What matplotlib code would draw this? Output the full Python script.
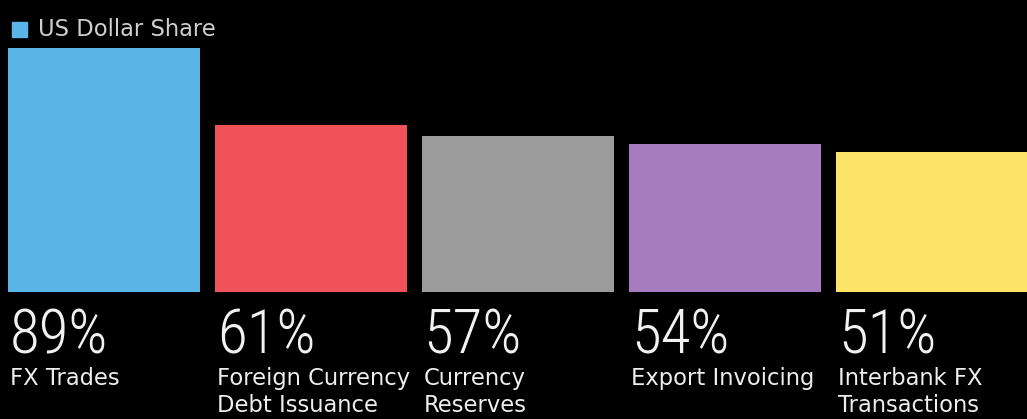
import matplotlib
matplotlib.use("Agg")
import matplotlib.pyplot as plt
from matplotlib.patches import Rectangle

# data
categories = ["FX Trades", "Foreign Currency\nDebt Issuance", "Currency\nReserves",
              "Export Invoicing", "Interbank FX\nTransactions"]
shares = [89, 61, 57, 54, 51]
colors = ["#5AB4E5", "#F0525A", "#9B9B9B", "#A77BBF", "#FDE466"]
legend_label = "US Dollar Share"

fig = plt.figure(figsize=(10.27, 4.19), dpi=100, facecolor="black")
ax = fig.add_axes([0, (419 - 292) / 419, 1, 292 / 419])
ax.set_facecolor("black")

width = 0.93
x = list(range(len(shares)))
ax.bar(x, shares, width=width, color=colors, align="center")

ax.set_xlim(-0.502, 4.459)
ax.set_ylim(0, 106.6)
ax.axis("off")

num_font = ["Roboto Condensed", "Liberation Sans Narrow", "Roboto", "DejaVu Sans"]

for i, (v, lab) in enumerate(zip(shares, categories)):
    left = i - width / 2 + 0.01
    ax.annotate(f"{v}%", xy=(left, 0), xycoords="data", xytext=(0, -11),
                textcoords="offset points", ha="left", va="top",
                fontsize=44, fontweight="light", color="#F2F2F2", family=num_font,
                annotation_clip=False)
    ax.annotate(lab, xy=(left, 0), xycoords="data", xytext=(0, -54),
                textcoords="offset points", ha="left", va="top",
                fontsize=16.3, color="#EEEEEE", linespacing=1.2,
                family=["DejaVu Sans"], annotation_clip=False)

# legend
fig.patches.append(Rectangle((12 / 1027, 1 - 37 / 419), 15 / 1027, 15 / 419,
                             transform=fig.transFigure, color=colors[0]))
fig.text(38 / 1027, 1 - 29 / 419, legend_label, ha="left", va="center",
         fontsize=16.3, color="#CFCFCF")

plt.savefig("out.png", dpi=100, facecolor="black")
